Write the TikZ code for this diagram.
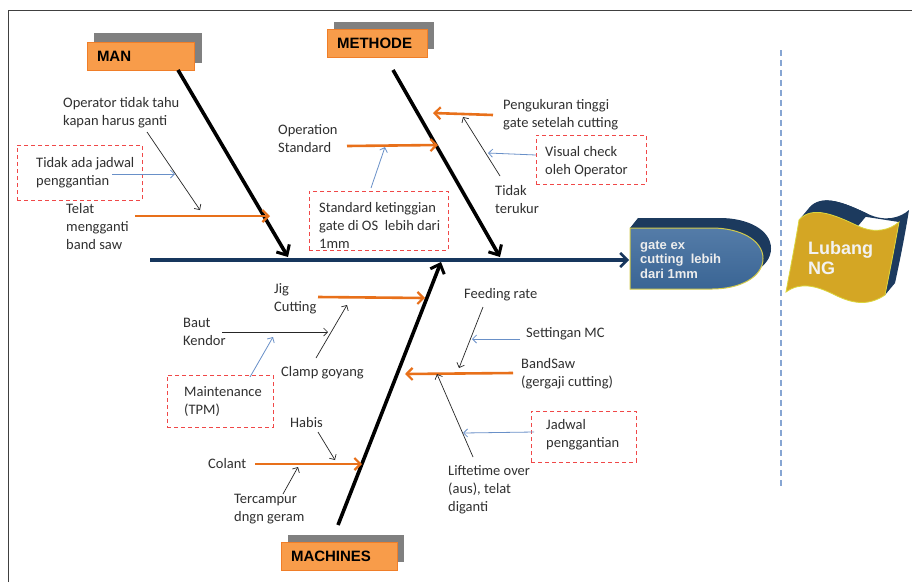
\documentclass[tikz,border=0pt]{standalone}
\usepackage{fontspec}
\setmainfont{Carlito}
\newfontfamily\arialfont{Liberation Sans}
\usetikzlibrary{arrows.meta}
\definecolor{boneorange}{HTML}{E8701A}
\definecolor{boxorange}{HTML}{F89C4A}
\definecolor{boxedge}{HTML}{F07E28}
\definecolor{shadowgrey}{HTML}{808080}
\definecolor{spinenavy}{HTML}{17365D}
\definecolor{notered}{HTML}{F04848}
\definecolor{noteblue}{HTML}{6990C8}
\definecolor{headblue}{HTML}{3D6A9C}
\definecolor{headback}{HTML}{1C3A5E}
\definecolor{headrim}{HTML}{D2CA4A}
\definecolor{flaggold}{HTML}{D4A624}
\definecolor{txtgrey}{HTML}{303030}

\begin{document}
\begin{tikzpicture}[x=1pt, y=-1pt,
  lbl/.style={font=\fontsize{14.5}{18}\selectfont, text=txtgrey, align=left, anchor=west, inner sep=0pt},
  catbox/.style={fill=boxorange, draw=boxedge, line width=0.8pt, inner xsep=10pt, inner ysep=0pt,
    minimum height=28pt, align=left, text=black, font=\arialfont\bfseries\fontsize{15}{18}\selectfont},
  notebox/.style={draw=notered, line width=0.9pt, dash pattern=on 4pt off 3pt, inner sep=0pt},
  bone/.style={black, line width=3.6pt, -{Straight Barb[length=8pt, width=15pt, line width=3pt]}},
  cause/.style={boneorange, line width=2.6pt, -{Straight Barb[length=6pt, width=12pt, line width=2.2pt]}},
  subcause/.style={black!85, line width=0.7pt, -{Straight Barb[length=4pt, width=8pt]}},
  hint/.style={noteblue, line width=0.8pt, -{Straight Barb[length=4pt, width=8pt]}}]
\useasboundingbox (0,0) rectangle (912,582);
\fill[white] (0,0) rectangle (912,582);
\draw[black!75, line width=1pt] (8,582) -- (8,10) -- (912,10);
\draw[noteblue!80, line width=1.2pt, dash pattern=on 6pt off 4pt] (781,50) -- (781,488);

% category boxes
\fill[shadowgrey] (94,33) rectangle (202,63);
\node[catbox, minimum width=107pt, text width=87pt] (man) at (140.5,56.5) {MAN};
\fill[shadowgrey] (334,22) rectangle (434,49);
\node[catbox, minimum width=100pt, text width=80pt] (methode) at (377,43) {METHODE};
\fill[shadowgrey] (288,535) rectangle (404,562);
\node[catbox, minimum width=116pt, text width=96pt] (machines) at (339,556.5) {MACHINES};

% effect head
\fill[headback] (630,228) -- (638,218) -- (720,218) .. controls (748,218) and (771,230) .. (771,248.5)
  .. controls (771,267) and (748,279) .. (720,279) -- (638,279) -- (630,289) -- cycle;
\shade[top color=headblue!88!white, bottom color=headblue!95!black, draw=headrim, line width=1pt]
  (630,228) -- (712,228) .. controls (740,228) and (763,240) .. (763,258.5)
  .. controls (763,277) and (740,289) .. (712,289) -- (630,289) -- cycle;
\node[font=\arialfont\bfseries\fontsize{13}{14.5}\selectfont, text=white!93!black, align=left, anchor=west, inner sep=0pt]
  (effect) at (640,259.5) {gate ex\\cutting~~lebih\\dari 1mm};
\coordinate (headW) at (629,260);

% Lubang NG flag
\fill[headback] (809,208) .. controls (822,193) and (845,203) .. (868,214) .. controls (885,222) and (900,218) .. (909,210)
  .. controls (905,235) and (900,260) .. (895,283) -- (885,295) .. controls (890,270) and (895,245) .. (899,222) -- cycle;
\fill[headback] (799,220) -- (809,208) .. controls (822,193) and (845,203) .. (868,214) -- (858,226) .. controls (835,215) and (812,205) .. (799,220) -- cycle;
\filldraw[fill=flaggold, draw=headrim!80!yellow, line width=0.8pt]
  (799,220) .. controls (812,205) and (835,215) .. (858,226) .. controls (875,234) and (890,230) .. (899,222)
  .. controls (895,245) and (890,270) .. (885,295) .. controls (870,305) and (855,305) .. (835,295)
  .. controls (815,285) and (800,282) .. (786,292) .. controls (790,270) and (795,245) .. (799,220) -- cycle;
\node[font=\arialfont\bfseries\fontsize{18}{20}\selectfont, text=white!95!black, align=left, anchor=west, inner sep=0pt]
  (lubang) at (808,258) {Lubang\\NG};

% spine and main bones
\coordinate (spineL) at (150,260);
\draw[spinenavy, line width=3.2pt, -{Straight Barb[length=7pt, width=14pt, line width=2.6pt]}] (spineL) -- (headW);
\coordinate (manT) at (178,70);
\coordinate (manB) at (288,257);
\coordinate (metT) at (393,70);
\coordinate (metB) at (500,257);
\coordinate (macB) at (338,525);
\coordinate (macT) at (441,262);
\draw[bone] (manT) -- (manB);
\draw[bone] (metT) -- (metB);
\draw[bone] (macB) -- (macT);

% causes
\node[lbl] (operator) at (63,113) {Operator tidak tahu\\kapan harus ganti};
\node[lbl] (tidakjadwal) at (36,172.5) {Tidak ada jadwal\\penggantian};
\node[lbl] (telat) at (66,226.5) {Telat\\mengganti\\band saw};
\node[lbl] (opstd) at (278,139) {Operation\\Standard};
\node[lbl] (ketinggian) at (319,225.5) {Standard ketinggian\\gate di OS~~lebih dari\\1mm};
\node[lbl] (pengukuran) at (503,114.5) {Pengukuran tinggi\\gate setelah cutting};
\node[lbl] (visual) at (545,161.5) {Visual check\\oleh Operator};
\node[lbl] (terukur) at (495,200) {Tidak\\terukur};
\node[lbl] (jig) at (274,298.5) {Jig\\Cutting};
\node[lbl] (baut) at (183,332) {Baut\\Kendor};
\node[lbl] (clamp) at (281,373) {Clamp goyang};
\node[lbl] (maint) at (184,402) {Maintenance\\(TPM)};
\node[lbl] (habis) at (290,423) {Habis};
\node[lbl] (colant) at (208,464) {Colant};
\node[lbl] (tercampur) at (234,509.5) {Tercampur\\dngn geram};
\node[lbl] (feeding) at (464,295) {Feeding rate};
\node[lbl] (setting) at (526,334) {Settingan MC};
\node[lbl] (bandsaw) at (521,373.5) {BandSaw\\(gergaji cutting)};
\node[lbl] (jadwal) at (546,434.5) {Jadwal\\penggantian};
\node[lbl] (lifetime) at (448,489.5) {Liftetime over\\(aus), telat\\diganti};

% dashed note boxes
\node[notebox, minimum width=125pt, minimum height=55pt] (tjbox) at (79.5,172.5) {};
\node[notebox, minimum width=139pt, minimum height=59pt] (skbox) at (378.5,220.5) {};
\node[notebox, minimum width=110pt, minimum height=49pt] (vcbox) at (591,159.5) {};
\node[notebox, minimum width=106pt, minimum height=52pt] (mtbox) at (220,401) {};
\node[notebox, minimum width=105pt, minimum height=51pt] (jpbox) at (583.5,436.5) {};

% cause arrows onto the bones
\coordinate (telA) at (135,216);  \coordinate (telB) at (270,216);
\coordinate (opsA) at (347,146);  \coordinate (opsB) at (438,145);
\coordinate (pgkA) at (493,115);  \coordinate (pgkB) at (433,113);
\coordinate (jigA) at (318,297);  \coordinate (jigB) at (425,298);
\coordinate (bswA) at (513,373);  \coordinate (bswB) at (405,374);
\coordinate (colA) at (255,464);  \coordinate (colB) at (362,464);
\draw[cause] (telA) -- (telB);
\draw[cause] (opsA) -- (opsB);
\draw[cause] (pgkA) -- (pgkB);
\draw[cause] (jigA) -- (jigB);
\draw[cause] (bswA) -- (bswB);
\draw[cause] (colA) -- (colB);

% sub causes
\coordinate (optA) at (147,132);  \coordinate (optB) at (200,210);
\coordinate (tdkA) at (500,176);  \coordinate (tdkB) at (463,117);
\coordinate (btA) at (222,332);   \coordinate (btB) at (328,332);
\coordinate (clmA) at (316,358);  \coordinate (clmB) at (347,305);
\coordinate (hbsA) at (318,432);  \coordinate (hbsB) at (335,460);
\coordinate (tcpA) at (283,494);  \coordinate (tcpB) at (298,467);
\coordinate (fdrA) at (483,307);  \coordinate (fdrB) at (459,368);
\coordinate (lftA) at (473,457);  \coordinate (lftB) at (437,374);
\draw[subcause] (optA) -- (optB);
\draw[subcause] (tdkA) -- (tdkB);
\draw[subcause] (btA) -- (btB);
\draw[subcause] (clmA) -- (clmB);
\draw[subcause] (hbsA) -- (hbsB);
\draw[subcause] (tcpA) -- (tcpB);
\draw[subcause] (fdrA) -- (fdrB);
\draw[subcause] (lftA) -- (lftB);

% notes pointing in
\coordinate (tjdA) at (112,174);  \coordinate (tjdB) at (175,174);
\coordinate (stkA) at (371,188);  \coordinate (stkB) at (385,147);
\coordinate (vscA) at (536,155);  \coordinate (vscB) at (488,153);
\coordinate (mntA) at (250,377);  \coordinate (mntB) at (273,337);
\coordinate (setA) at (520,339);  \coordinate (setB) at (472,339);
\coordinate (jdwA) at (534,432);  \coordinate (jdwB) at (463,433);
\draw[hint] (tjdA) -- (tjdB);
\draw[hint] (stkA) -- (stkB);
\draw[hint] (vscA) -- (vscB);
\draw[hint] (mntA) -- (mntB);
\draw[hint] (setA) -- (setB);
\draw[hint] (jdwA) -- (jdwB);
\end{tikzpicture}
\end{document}
